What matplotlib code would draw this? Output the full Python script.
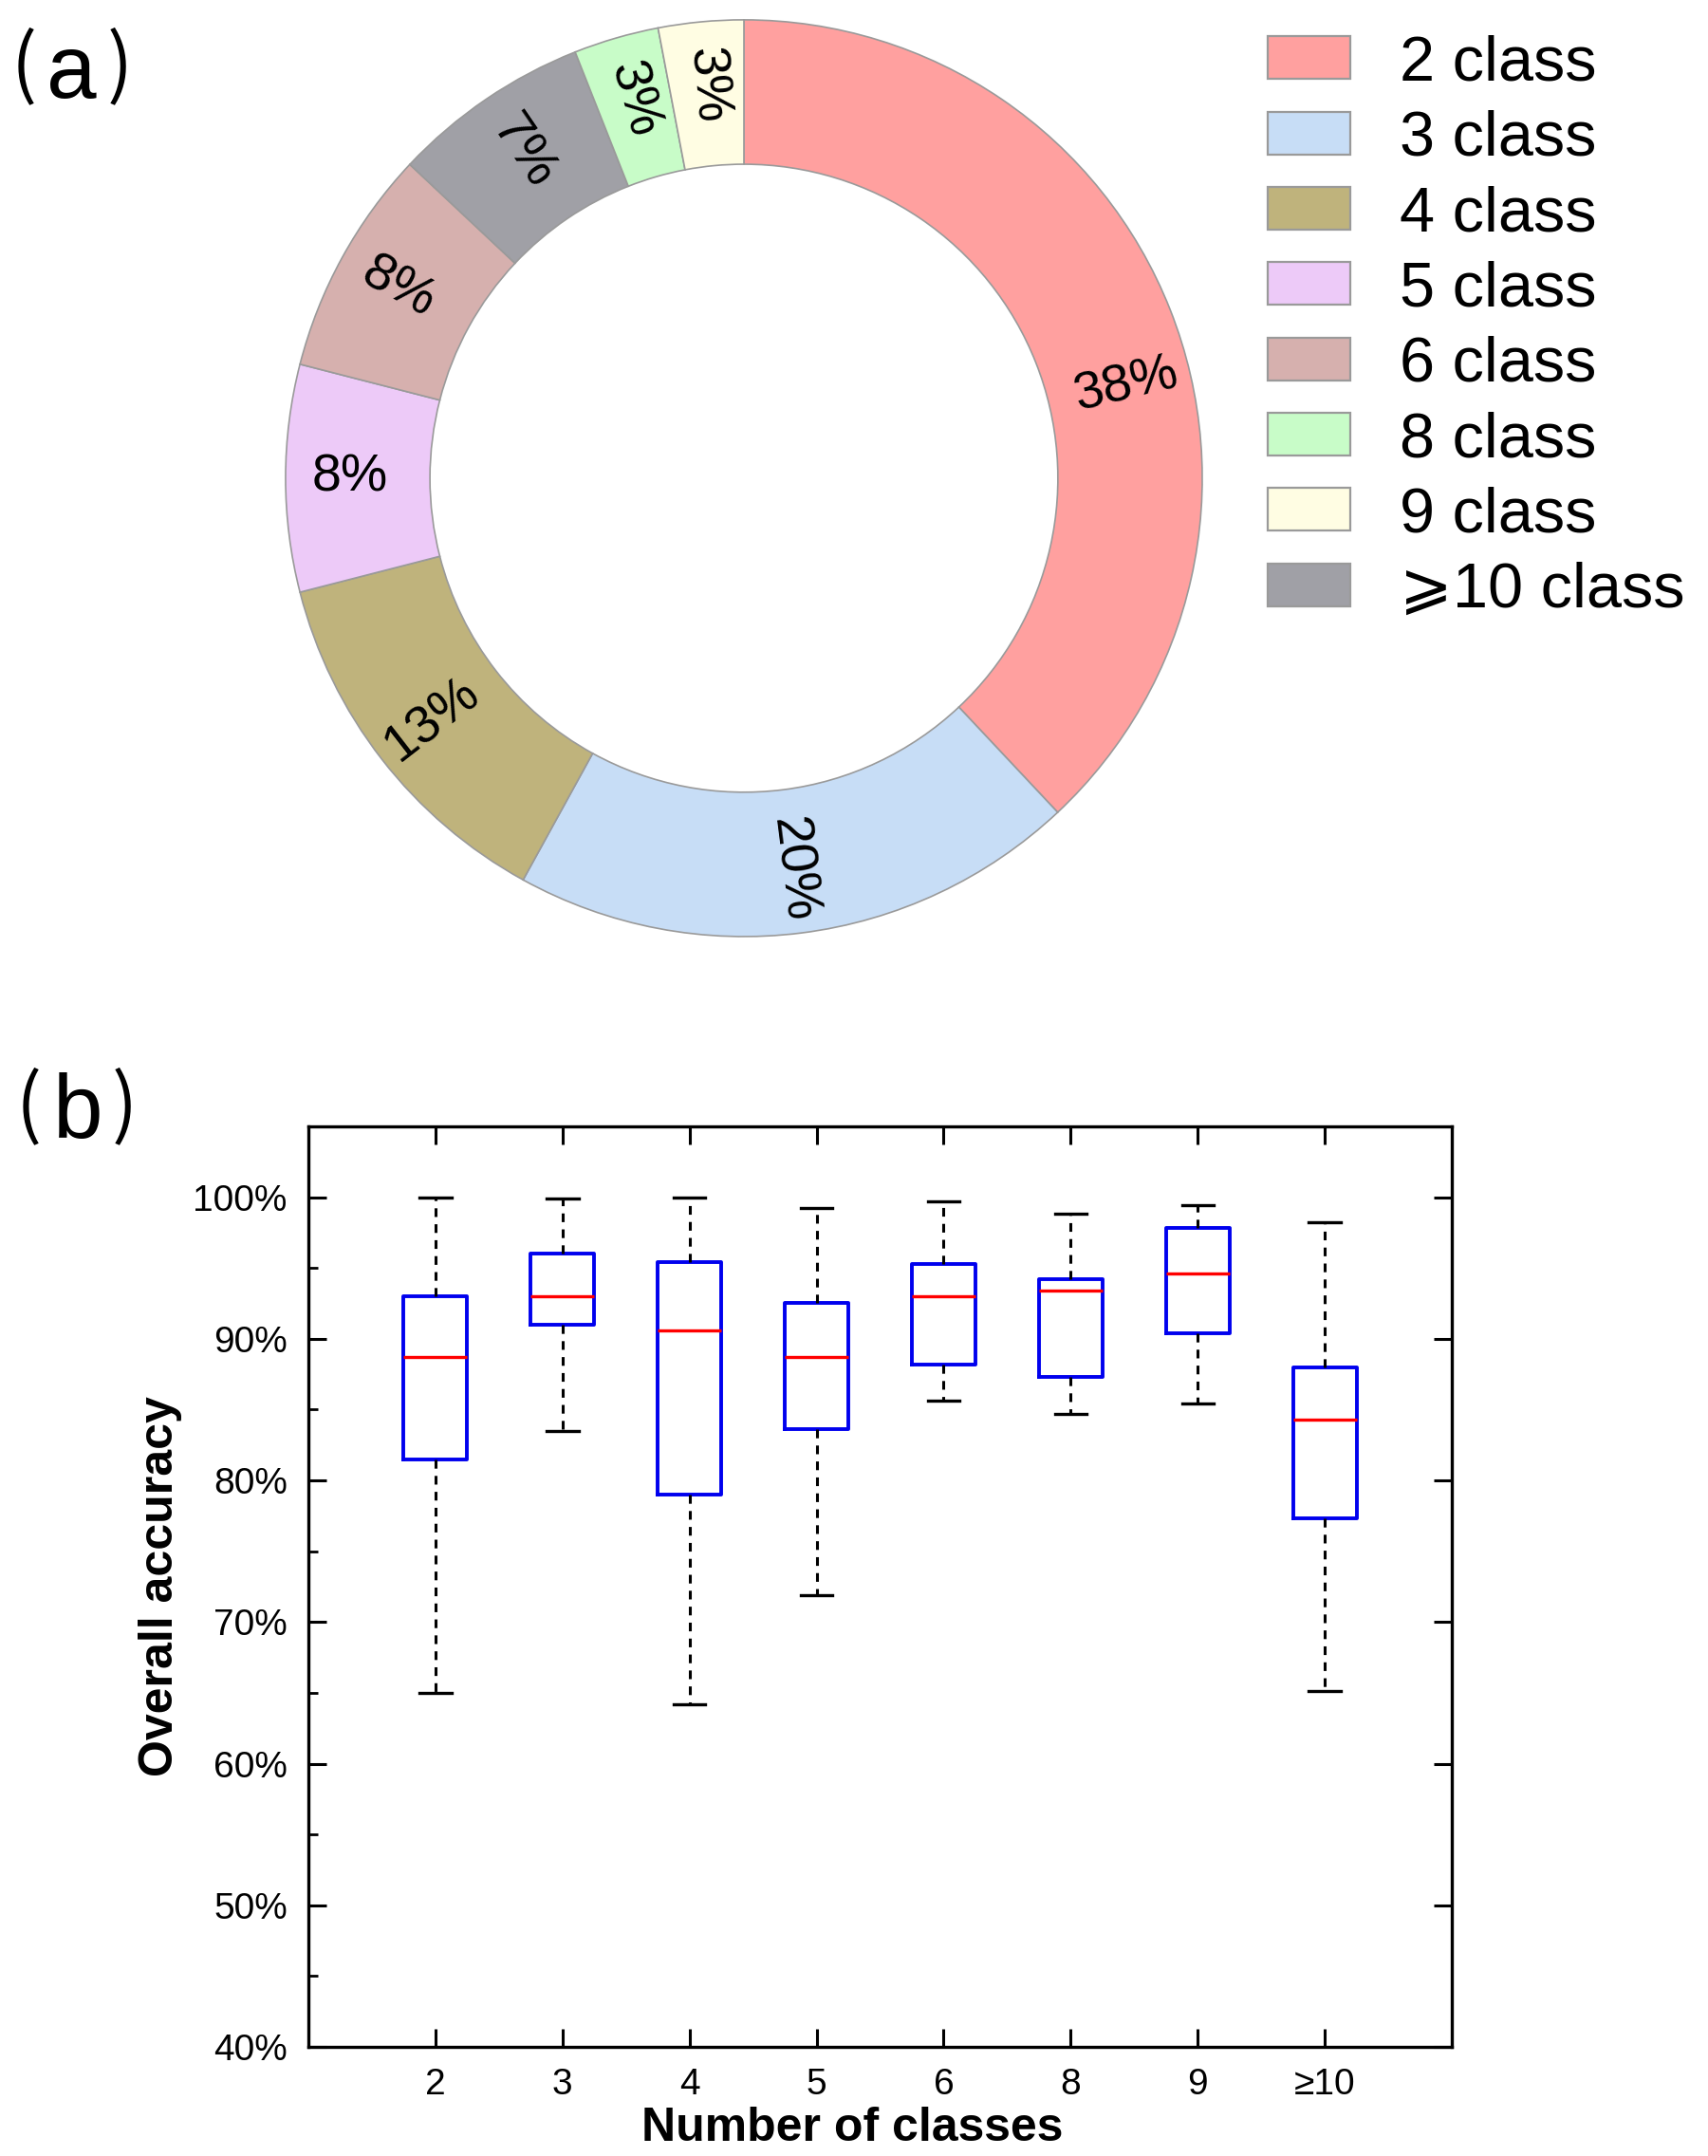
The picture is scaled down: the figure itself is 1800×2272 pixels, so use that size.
import numpy as np
import matplotlib
matplotlib.use('Agg')
import matplotlib.pyplot as plt
import matplotlib.patches as mpatches
from matplotlib.ticker import MultipleLocator, FuncFormatter

plt.rcParams['font.family'] = ['Liberation Sans', 'DejaVu Sans']

# pie data (clockwise from top)
pie_labels = ['2 class', '3 class', '4 class', '5 class', '6 class', '⩾10 class', '8 class', '9 class']
pie_pct = [38, 20, 13, 8, 8, 7, 3, 3]
pie_colors = ['#FFA09F', '#C7DDF6', '#BFB37C', '#EDCAF8', '#D6B0AE', '#A0A0A6', '#C8FCC8', '#FFFDE3']
legend_order = ['2 class', '3 class', '4 class', '5 class', '6 class', '8 class', '9 class', '⩾10 class']

# box plot data (%)
box_cats = ['2', '3', '4', '5', '6', '8', '9', '≥10']
whis_lo = [65.0, 83.5, 64.2, 71.9, 85.6, 84.7, 85.4, 65.1]
q1 = [81.5, 91.0, 79.0, 83.6, 88.2, 87.3, 90.4, 77.3]
med = [88.7, 93.0, 90.6, 88.7, 93.0, 93.4, 94.6, 84.3]
q3 = [93.0, 96.0, 95.4, 92.5, 95.3, 94.2, 97.8, 88.0]
whis_hi = [100.0, 99.9, 100.0, 99.2, 99.7, 98.8, 99.4, 98.2]

fig = plt.figure(figsize=(9, 11.36), dpi=200)


def panel_tag(letter, xl, xc, xr, y_paren, y_base):
    # thin tall parentheses with an Arial-like letter between them
    fig.text(xl, y_paren, '(', fontsize=29, family=['Noto Sans CJK SC'], ha='left', va='center')
    fig.text(xc, y_base, letter, fontsize=34, ha='center', va='baseline')
    fig.text(xr, y_paren, ')', fontsize=29, family=['Noto Sans CJK SC'], ha='right', va='center')


# ---- (a) donut ----
ax1 = fig.add_axes([0.1672, 0.5656, 0.5367, 0.4252])
wedges, texts, autotexts = ax1.pie(
    pie_pct, colors=pie_colors, startangle=90, counterclock=False, radius=1,
    wedgeprops=dict(width=0.315, edgecolor='#9a9a9a', linewidth=0.6),
    autopct='%d%%', pctdistance=0.85, textprops=dict(fontsize=20))
# the big slice's label sits a bit below its middle in the original
ang_shift = {0: -8.0}
for i, (w, t) in enumerate(zip(wedges, autotexts)):
    ang = (w.theta1 + w.theta2) / 2.0 + ang_shift.get(i, 0.0)
    r = 0.86
    t.set_position((r * np.cos(np.radians(ang)), r * np.sin(np.radians(ang))))
    rot = ang
    while rot > 90:
        rot -= 180
    while rot < -90:
        rot += 180
    t.set_rotation(rot)
    t.set_rotation_mode('anchor')
    t.set_ha('center')
    t.set_va('center')
ax1.set_xlim(-1, 1)
ax1.set_ylim(-1, 1)
ax1.set_aspect('equal')
ax1.axis('off')

handles = [wedges[pie_labels.index(l)] for l in legend_order]
leg_handles = [mpatches.Patch(facecolor=h.get_facecolor(), edgecolor='#9a9a9a', linewidth=0.8) for h in handles]
fig.legend(leg_handles, legend_order, loc='upper left', bbox_to_anchor=(0.742, 0.984),
           frameon=False, fontsize=24, handlelength=1.31, handleheight=0.66,
           handletextpad=0.78, labelspacing=0.26, borderpad=0, borderaxespad=0)

panel_tag('a', 0.0067, 0.0419, 0.0778, 0.9687, 0.9547)

# ---- (b) box plot ----
ax2 = fig.add_axes([0.1806, 0.0506, 0.6694, 0.4270])
stats = []
for i in range(len(box_cats)):
    stats.append(dict(label=box_cats[i], whislo=whis_lo[i], q1=q1[i], med=med[i], q3=q3[i], whishi=whis_hi[i], fliers=[]))
ax2.bxp(stats, positions=np.arange(1, len(box_cats) + 1), widths=0.5, showfliers=False,
        boxprops=dict(color='#0000EE', linewidth=1.4),
        medianprops=dict(color='#FF0000', linewidth=1.2),
        whiskerprops=dict(color='black', linewidth=1.1, linestyle=(0, (3, 2.5))),
        capprops=dict(color='black', linewidth=1.2))
ax2.set_xlim(0, 9)
ax2.set_ylim(40, 105)
ax2.yaxis.set_major_locator(MultipleLocator(10))
ax2.yaxis.set_minor_locator(MultipleLocator(5))
ax2.yaxis.set_major_formatter(FuncFormatter(lambda v, p: '%d%%' % v))
ax2.set_xticks(np.arange(1, len(box_cats) + 1))
ax2.set_xticklabels(box_cats)
ax2.tick_params(which='major', direction='in', length=7, width=1.1, top=True, right=True, labelsize=14, pad=8)
ax2.tick_params(which='minor', direction='in', length=3.5, width=1.0, left=True, right=False)
ax2.tick_params(axis='x', which='minor', bottom=False, top=False)
for s in ax2.spines.values():
    s.set_linewidth(1.2)
ax2.set_xlabel('Number of classes', fontsize=18, fontweight='bold', va='center')
ax2.xaxis.set_label_coords(0.476, -0.0887)
ax2.set_ylabel('Overall accuracy', fontsize=18, fontweight='bold', labelpad=4)

panel_tag('b', 0.0094, 0.0458, 0.0806, 0.4864, 0.4723)

fig.savefig('out.png', dpi=200)
